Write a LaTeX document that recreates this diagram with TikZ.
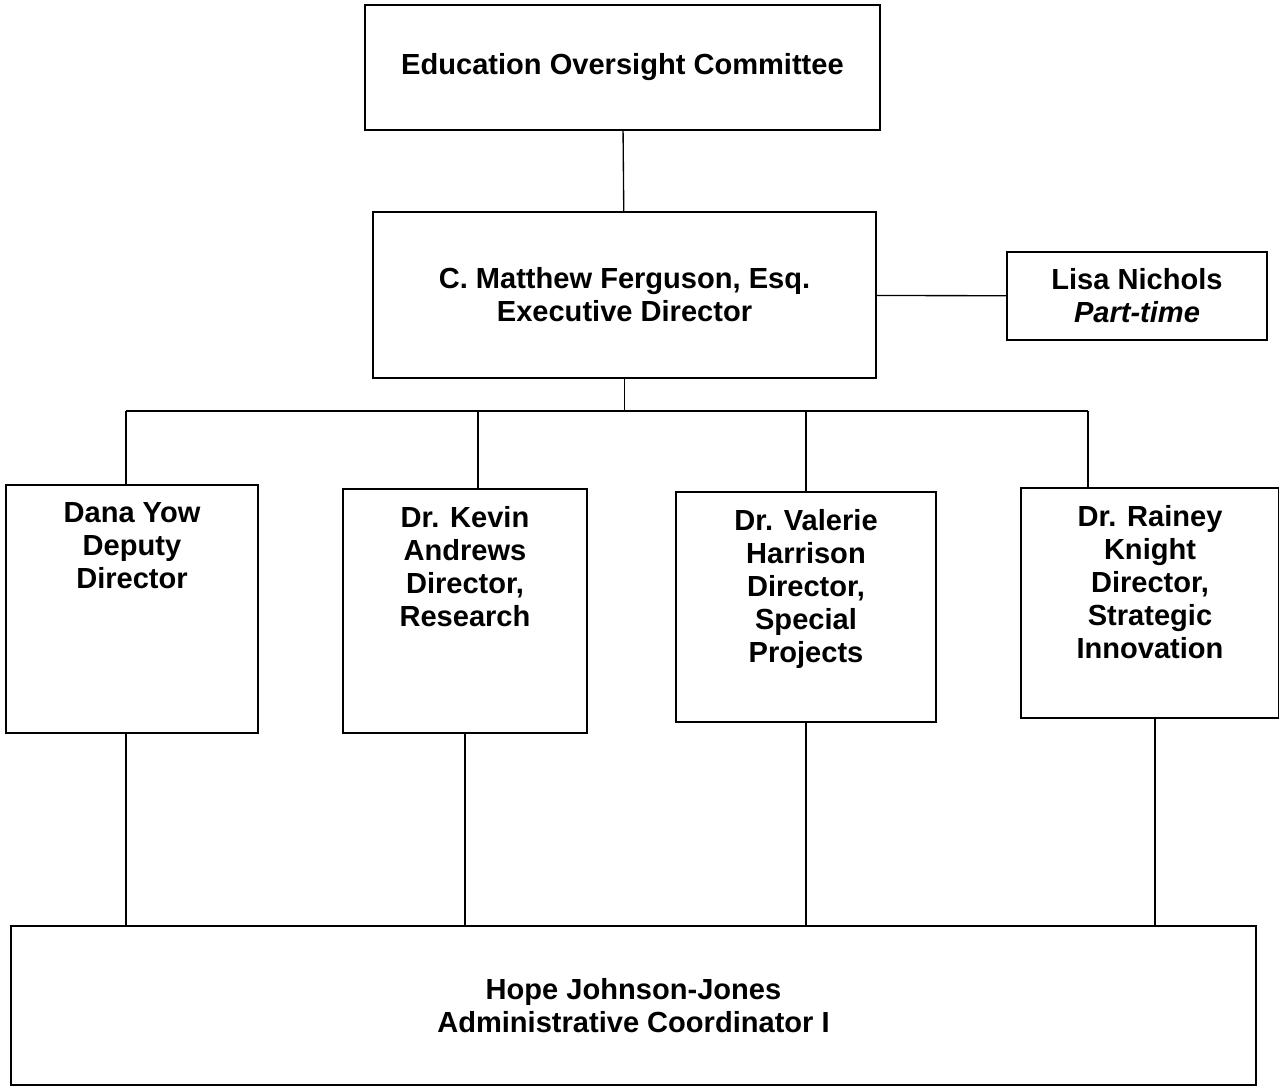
\documentclass[tikz,border=0pt]{standalone}
\usepackage{fontspec}
\setmainfont{Liberation Sans}
\pgfdeclarelayer{edgelayer}
\pgfdeclarelayer{nodelayer}
\pgfsetlayers{edgelayer,nodelayer,main}
\tikzstyle{box}=[rectangle,fill=white,draw=black,line width=1pt,font=\bfseries\fontsize{21.8}{24.8}\selectfont,align=center]
\tikzstyle{boxtext}=[anchor=north,inner sep=0pt,yshift=-13.5pt,font=\bfseries\fontsize{21.8}{24.8}\selectfont,align=center]
\tikzstyle{link}=[draw=black,line width=1pt]

\begin{document}
\begin{tikzpicture}[x=0.75pt,y=-0.75pt]
	\useasboundingbox (0,0) rectangle (1279,1087);
	\begin{pgfonlayer}{nodelayer}
		\node [style=box, minimum width=386.25pt, minimum height=93.75pt] (eoc) at (622.5, 67.5) {Education Oversight Committee};
		\node [style=box, minimum width=377.25pt, minimum height=124.5pt] (exec) at (624.5, 295) {C. Matthew Ferguson, Esq.\\Executive Director};
		\node [style=box, minimum width=195pt, minimum height=66pt] (lisa) at (1137, 296) {Lisa Nichols\\\itshape Part-time};
		\node [style=box, minimum width=189pt, minimum height=186pt] (dana) at (132, 609) {};
		\node [style=box, minimum width=183pt, minimum height=183pt] (kevin) at (465, 611) {};
		\node [style=box, minimum width=195pt, minimum height=172.5pt] (valerie) at (806, 607) {};
		\node [style=box, minimum width=193.5pt, minimum height=172.5pt] (rainey) at (1150, 603) {};
		\node [style=box, minimum width=933.75pt, minimum height=119.25pt] (hope) at (633.5, 1005.5) {Hope Johnson-Jones\\Administrative Coordinator I};
		% text at the top of the four director boxes
		\node [style=boxtext] (dana-t) at (dana.north) {Dana Yow\\Deputy\\Director};
		\node [style=boxtext] (kevin-t) at (kevin.north) {Dr. Kevin\\Andrews\\Director,\\Research};
		\node [style=boxtext] (valerie-t) at (valerie.north) {Dr. Valerie\\Harrison\\Director,\\Special\\Projects};
		\node [style=boxtext] (rainey-t) at (rainey.north) {Dr. Rainey\\Knight\\Director,\\Strategic\\Innovation};
	\end{pgfonlayer}
	\begin{pgfonlayer}{edgelayer}
		\coordinate (busL) at (126, 411);
		\coordinate (busR) at (1088, 411);
		\draw [style=link] (eoc) to (exec);
		\draw [style=link] (exec) to (lisa);
		\draw [style=link] (exec.south) to (exec.south |- busL);
		\draw [style=link] (busL) to (busR);
		\draw [style=link] (dana.north -| busL) to (busL);
		\draw [style=link] ([xshift=9.75pt]kevin.north) to ([xshift=9.75pt]kevin.north |- busL);
		\draw [style=link] (valerie.north) to (valerie.north |- busL);
		\draw [style=link] (rainey.north -| busR) to (busR);
		\draw [style=link] ([xshift=-4.5pt]dana.south) to ([xshift=-4.5pt]dana.south |- hope.north);
		\draw [style=link] (kevin.south) to (kevin.south |- hope.north);
		\draw [style=link] (valerie.south) to (valerie.south |- hope.north);
		\draw [style=link] ([xshift=3.75pt]rainey.south) to ([xshift=3.75pt]rainey.south |- hope.north);
	\end{pgfonlayer}
\end{tikzpicture}
\end{document}
